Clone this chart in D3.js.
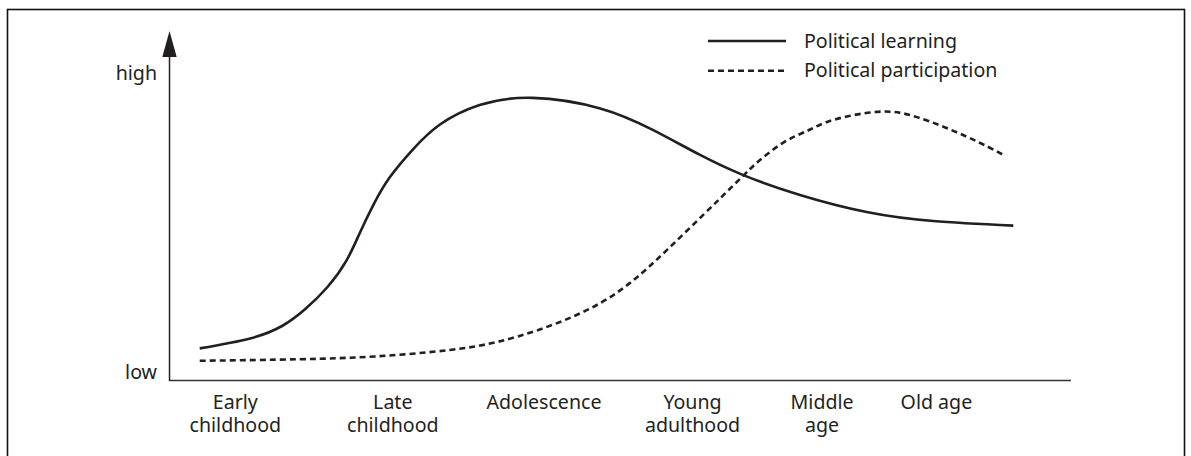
<!DOCTYPE html>
<html>
<head>
<meta charset="utf-8">
<script src="https://cdn.jsdelivr.net/npm/d3@7"></script>
<style>
  body { margin: 0; background: #fff; }
  text { font-family: "Noto Sans", "Open Sans", sans-serif; fill: #231f20; }
</style>
</head>
<body>
<svg id="chart" width="1191" height="456"></svg>
<script>
// Life stages along the x axis (position on a 0-100 life-course scale)
const stages = ["Early\nchildhood", "Late\nchildhood", "Adolescence", "Young\nadulthood", "Middle\nage", "Old age"];
const stagePos = [7.2, 24.7, 41.5, 58, 72.4, 85.1];

// y axis end labels
const levelLabels = ["low", "high"];
const levelValues = [0, 100];

// Political learning (solid)
const learningT = [3.3, 8.9, 12.5, 15.0, 17.5, 19.6, 21.1, 22.6, 24.4, 27.0, 30.0, 34.4, 40.3, 47.8, 53.7, 58.9, 63.7, 70, 77.4, 84.8, 93.7];
const learningV = [10.2, 13.4, 17.5, 22.8, 30.0, 38.5, 47.5, 56.5, 65.3, 74.4, 82.4, 88.7, 91.0, 87.6, 80.6, 72.6, 66.1, 59.7, 54.2, 51.3, 49.8];

// Political participation (dashed)
const participationT = [3.3, 14.4, 22.8, 31.1, 38.6, 47.8, 55.2, 62.6, 65.3, 68.1, 70.9, 73.7, 78.6, 83, 88.6, 92.8];
const participationV = [6.2, 6.7, 7.6, 9.7, 14.0, 24.8, 41.9, 62.8, 70.3, 76.5, 80.5, 83.9, 86.5, 84.8, 78.4, 72.3];

const series = [
    { name: "Political learning", t: learningT, v: learningV, dash: null },
    { name: "Political participation", t: participationT, v: participationV, dash: "6,4" }
];

const ink = "#231f20";
const svg = d3.select("#chart");

// outer frame (bottom edge runs off the picture)
svg.append("rect")
    .attr("x", 7.5).attr("y", 9.5)
    .attr("width", 1177).attr("height", 470)
    .attr("fill", "none")
    .attr("stroke", "#111")
    .attr("stroke-width", 1.6);

const x = d3.scaleLinear().domain([0, 100]).range([170, 1070]);
const y = d3.scaleLinear().domain([0, 100]).range([380, 70]);
const x0 = 169.5, yBase = 380.5;

// x axis
const xAxis = svg.append("g")
    .attr("transform", `translate(0,${yBase})`)
    .call(d3.axisBottom(x).tickValues(stagePos).tickSize(0).tickFormat((d, i) => stages[i]));
xAxis.select(".domain")
    .attr("d", `M${x0},0H${x(100) + 1}`)
    .attr("stroke", "#333").attr("stroke-width", 1.5);
xAxis.selectAll(".tick text").each(function(d, i) {
    const el = d3.select(this).text(null)
        .attr("y", 0).attr("dy", null)
        .style("font-size", "19.6px");
    stages[i].split("\n").forEach((line, k) => {
        el.append("tspan").attr("x", 0).attr("y", 28.5 + k * 23).text(line);
    });
});

// y axis with arrow head
svg.append("line")
    .attr("x1", x0).attr("x2", x0)
    .attr("y1", yBase + 0.5).attr("y2", 52)
    .attr("stroke", "#222").attr("stroke-width", 1.5);
svg.append("path")
    .attr("d", `M${x0},31 L${x0 + 7.2},57 L${x0 - 7.2},57 Z`)
    .attr("fill", ink);

svg.append("g").selectAll("text")
    .data(levelValues)
    .join("text")
    .attr("x", 157)
    .attr("y", d => d === 0 ? y(d) - 1 : y(d) + 10)
    .attr("text-anchor", "end")
    .style("font-size", "19.6px")
    .text((d, i) => levelLabels[i]);

// curves
const line = d3.line()
    .x(d => x(d[0]))
    .y(d => y(d[1]))
    .curve(d3.curveNatural);

svg.append("g").selectAll("path")
    .data(series)
    .join("path")
    .attr("d", s => line(s.t.map((t, i) => [t, s.v[i]])))
    .attr("fill", "none")
    .attr("stroke", ink)
    .attr("stroke-width", 2.6)
    .attr("stroke-dasharray", s => s.dash);

// legend
const legend = svg.append("g").attr("transform", "translate(708,41)");
const item = legend.selectAll("g")
    .data(series)
    .join("g")
    .attr("transform", (d, i) => `translate(0,${i * 29.7})`);
item.append("line")
    .attr("x1", 0).attr("x2", 78)
    .attr("stroke", ink)
    .attr("stroke-width", 2.4)
    .attr("stroke-dasharray", d => d.dash);
item.append("text")
    .attr("x", 96).attr("y", 6.5)
    .style("font-size", "19.6px")
    .text(d => d.name);
</script>
</body>
</html>
